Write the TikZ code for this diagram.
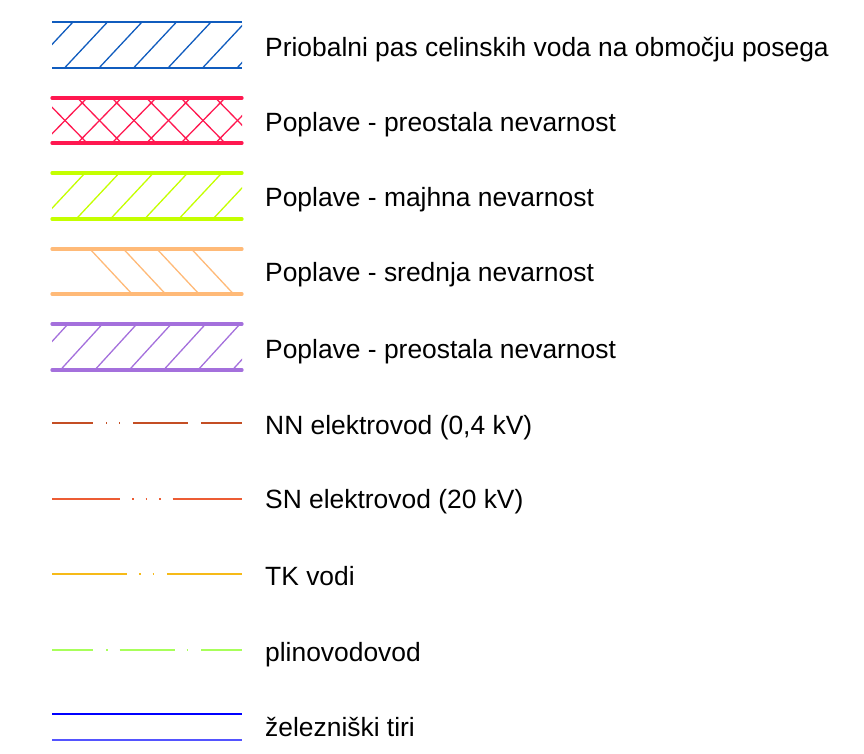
\documentclass[tikz,border=0pt]{standalone}
\usepackage{fontspec}
\setmainfont{Liberation Sans}
\usepackage{tikz}
\usetikzlibrary{positioning}
\usepackage{xcolor}

\definecolor{priobalblue}{RGB}{16,92,190}
\definecolor{poplred}{RGB}{255,24,80}
\definecolor{popllime}{RGB}{196,255,0}
\definecolor{poplorange}{RGB}{255,186,120}
\definecolor{poplviolet}{RGB}{164,112,220}
\definecolor{nncol}{RGB}{196,78,36}
\definecolor{sncol}{RGB}{236,92,52}
\definecolor{tkcol}{RGB}{246,186,24}
\definecolor{plincol}{RGB}{168,255,90}
\definecolor{railtop}{RGB}{0,0,255}
\definecolor{railbot}{RGB}{84,84,255}

\tikzset{
	lbl/.style={anchor=base west, inner sep=0pt, font=\fontsize{26.4}{30}\selectfont},
	hatchline/.style={line width=1.3pt},
	bandedge/.style={line width=3.3pt, line cap=round},
	nnline/.style={nncol, line width=1.2pt,
		dash pattern=on 41pt off 13pt on 1pt off 12pt on 1pt off 13pt on 55pt off 13pt on 41pt off 20pt},
	snline/.style={sncol, line width=1.6pt,
		dash pattern=on 68pt off 12pt on 1.5pt off 12pt on 1.5pt off 12pt on 1.5pt off 12pt on 70pt off 20pt},
	tkline/.style={tkcol, line width=1.2pt,
		dash pattern=on 75pt off 12pt on 1.5pt off 12pt on 1.5pt off 13pt on 76pt off 20pt},
	plinline/.style={plincol, line width=1.9pt,
		dash pattern=on 41pt off 13pt on 1.5pt off 12pt on 55pt off 12pt on 1.5pt off 13pt on 42pt off 20pt}
}

\begin{document}
\begin{tikzpicture}[x=1pt,y=-1pt]
	
	\useasboundingbox (0,0) rectangle (864,753);
	
	% Priobalni pas
	\begin{scope}
		\clip (52,22) rectangle (242,68);
		\foreach \t in {38.5,73,107.5,142,176.5,211,245.5,280}
		\draw[priobalblue, hatchline] (\t,22) -- ++(-43,46);
	\end{scope}
	\draw[priobalblue, line width=1.9pt] (52,22) -- (242,22);
	\draw[priobalblue, line width=1.9pt] (52,68) -- (242,68);
	
	% Poplave - preostala (crosshatch)
	\begin{scope}
		\clip (52,98) rectangle (242,143);
		\foreach \m in {30.5,65,99.5,134,168.5,203,237.5,272}
		{
			\draw[poplred, hatchline] (\m,120.5) ++(-22,22.5) -- ++(44,-45);
			\draw[poplred, hatchline] (\m,120.5) ++(22,22.5) -- ++(-44,-45);
		}
	\end{scope}
	\draw[poplred, bandedge] (52,98) -- (242,98);
	\draw[poplred, bandedge] (52,143) -- (242,143);
	
	% Poplave - majhna
	\begin{scope}
		\clip (52,173) rectangle (242,219);
		\foreach \t in {50.8,85,119.2,153.4,187.6,221.8,256,290.2}
		\draw[popllime, hatchline] (\t,173) -- ++(-43,46);
	\end{scope}
	\draw[popllime, bandedge] (52,173) -- (242,173);
	\draw[popllime, bandedge] (52,219) -- (242,219);
	
	% Poplave - srednja
	\foreach \t in {90,123.5,157,191.5}
	\draw[poplorange, hatchline] (\t,249) -- ++(42,45);
	\draw[poplorange, bandedge] (52,249) -- (242,249);
	\draw[poplorange, bandedge] (52,294) -- (242,294);
	
	% Poplave - preostala (violet)
	\begin{scope}
		\clip (52,324) rectangle (242,370);
		\foreach \t in {33.6,68,102.4,136.8,171.2,205.6,240,274.4}
		\draw[poplviolet, hatchline] (\t,324) -- ++(-42,46);
	\end{scope}
	\draw[poplviolet, bandedge] (52,324) -- (242,324);
	\draw[poplviolet, bandedge] (52,370) -- (242,370);
	
	% Vodi
	\draw[nnline] (52,423) -- (242,423);
	\draw[snline] (52,499) -- (242,499);
	\draw[tkline] (52,574) -- (242,574);
	\draw[plinline] (52,650) -- (242,650);
	
	% Tiri
	\draw[railtop, line width=1.3pt] (52,714) -- (242,714);
	\draw[railbot, line width=1.8pt] (52,740) -- (242,740);
	
	% Labels
	\node[lbl] (lpriobal) at (265,56) {Priobalni pas celinskih voda na območju posega};
	\node[lbl] (lpreost) at (265,131) {Poplave - preostala nevarnost};
	\node[lbl] (lmajhna) at (265,206) {Poplave - majhna nevarnost};
	\node[lbl] (lsrednja) at (265,281) {Poplave - srednja nevarnost};
	\node[lbl] (lpreostb) at (265,358) {Poplave - preostala nevarnost};
	\node[lbl] (lnn) at (265,434) {NN elektrovod (0,4 kV)};
	\node[lbl] (lsn) at (265,508) {SN elektrovod (20 kV)};
	\node[lbl] (ltk) at (265,585) {TK vodi};
	\node[lbl] (lplin) at (265,661) {plinovodovod};
	\node[lbl] (ltiri) at (265,736) {železniški tiri};
	
\end{tikzpicture}
\end{document}
